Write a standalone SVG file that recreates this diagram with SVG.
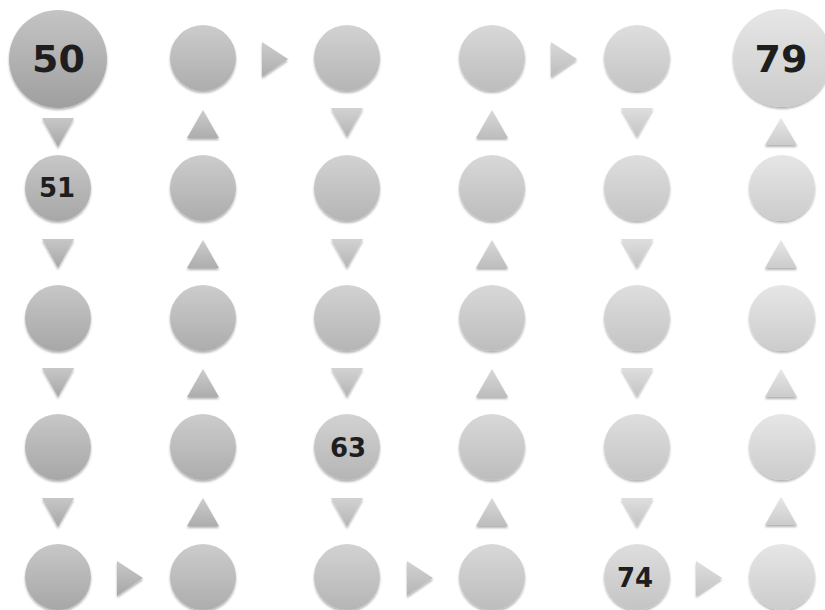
<svg xmlns="http://www.w3.org/2000/svg" width="825" height="610" viewBox="0 0 825 610">
<style>
.lbl{font-family:"DejaVu Sans","Liberation Sans",sans-serif;font-weight:bold;fill:#1e1e1e;text-anchor:middle}
.big{font-size:38px}
.sm{font-size:26px}
.n,.t{filter:url(#sh)}
</style>
<defs>
<linearGradient id="g0" x1="0" y1="0" x2="0" y2="1"><stop offset="0" stop-color="#c4c4c4"/><stop offset="1" stop-color="#9f9f9f"/></linearGradient>
<linearGradient id="g1" x1="0" y1="0" x2="0" y2="1"><stop offset="0" stop-color="#c7c7c7"/><stop offset="1" stop-color="#a7a7a7"/></linearGradient>
<linearGradient id="g2" x1="0" y1="0" x2="0" y2="1"><stop offset="0" stop-color="#cccccc"/><stop offset="1" stop-color="#adadad"/></linearGradient>
<linearGradient id="g3" x1="0" y1="0" x2="0" y2="1"><stop offset="0" stop-color="#d2d2d2"/><stop offset="1" stop-color="#b5b5b5"/></linearGradient>
<linearGradient id="g4" x1="0" y1="0" x2="0" y2="1"><stop offset="0" stop-color="#d8d8d8"/><stop offset="1" stop-color="#bdbdbd"/></linearGradient>
<linearGradient id="g5" x1="0" y1="0" x2="0" y2="1"><stop offset="0" stop-color="#dedede"/><stop offset="1" stop-color="#c4c4c4"/></linearGradient>
<linearGradient id="g6" x1="0" y1="0" x2="0" y2="1"><stop offset="0" stop-color="#e6e6e6"/><stop offset="1" stop-color="#cccccc"/></linearGradient>
<filter id="sh" x="-30%" y="-30%" width="160%" height="170%">
<feDropShadow dx="0" dy="2" stdDeviation="1.3" flood-color="#000" flood-opacity="0.3"/>
</filter>
</defs>

<g id="connectors">
<!-- column 1 down -->
<polygon class="t" fill="url(#g1)" points="42,118 74,118 58,147"/>
<polygon class="t" fill="url(#g1)" points="42,239 74,239 58,268"/>
<polygon class="t" fill="url(#g1)" points="42,368 74,368 58,397"/>
<polygon class="t" fill="url(#g1)" points="42,498 74,498 58,527"/>
<!-- column 2 up -->
<polygon class="t" fill="url(#g2)" points="203,110 219,138 187,138"/>
<polygon class="t" fill="url(#g2)" points="203,240 219,268 187,268"/>
<polygon class="t" fill="url(#g2)" points="203,369 219,397 187,397"/>
<polygon class="t" fill="url(#g2)" points="203,498 219,526 187,526"/>
<!-- column 3 down -->
<polygon class="t" fill="url(#g3)" points="331,108 363,108 347,137"/>
<polygon class="t" fill="url(#g3)" points="331,239 363,239 347,268"/>
<polygon class="t" fill="url(#g3)" points="331,368 363,368 347,397"/>
<polygon class="t" fill="url(#g3)" points="331,498 363,498 347,527"/>
<!-- column 4 up -->
<polygon class="t" fill="url(#g4)" points="492,110 508,138 476,138"/>
<polygon class="t" fill="url(#g4)" points="492,240 508,268 476,268"/>
<polygon class="t" fill="url(#g4)" points="492,369 508,397 476,397"/>
<polygon class="t" fill="url(#g4)" points="492,498 508,526 476,526"/>
<!-- column 5 down -->
<polygon class="t" fill="url(#g5)" points="621,108 653,108 637,137"/>
<polygon class="t" fill="url(#g5)" points="621,239 653,239 637,268"/>
<polygon class="t" fill="url(#g5)" points="621,368 653,368 637,397"/>
<polygon class="t" fill="url(#g5)" points="621,498 653,498 637,527"/>
<!-- column 6 up -->
<polygon class="t" fill="url(#g6)" points="781,118 797,145 765,145"/>
<polygon class="t" fill="url(#g6)" points="781,240 797,268 765,268"/>
<polygon class="t" fill="url(#g6)" points="781,369 797,397 765,397"/>
<polygon class="t" fill="url(#g6)" points="781,497 797,525 765,525"/>
<!-- horizontal right arrows -->
<polygon class="t" fill="url(#g2)" points="262,42 288,59 262,77"/>
<polygon class="t" fill="url(#g4)" points="551,42 577,59 551,77"/>
<polygon class="t" fill="url(#g1)" points="117,561 143,578 117,596"/>
<polygon class="t" fill="url(#g3)" points="407,561 433,578 407,596"/>
<polygon class="t" fill="url(#g5)" points="696,561 722,578 696,596"/>
</g>

<g id="n50"><circle class="n" cx="58" cy="59" r="49" fill="url(#g0)"/><text class="lbl big" x="58.5" y="72">50</text></g>
<g id="n51"><circle class="n" cx="58" cy="188" r="33" fill="url(#g1)"/><text class="lbl sm" x="57" y="197">51</text></g>
<g id="n52"><circle class="n" cx="58" cy="318" r="33" fill="url(#g1)"/></g>
<g id="n53"><circle class="n" cx="58" cy="447" r="33" fill="url(#g1)"/></g>
<g id="n54"><circle class="n" cx="58" cy="577" r="33" fill="url(#g1)"/></g>

<g id="n55"><circle class="n" cx="203" cy="577" r="33" fill="url(#g2)"/></g>
<g id="n56"><circle class="n" cx="203" cy="447" r="33" fill="url(#g2)"/></g>
<g id="n57"><circle class="n" cx="203" cy="318" r="33" fill="url(#g2)"/></g>
<g id="n58"><circle class="n" cx="203" cy="188" r="33" fill="url(#g2)"/></g>
<g id="n59"><circle class="n" cx="203" cy="58" r="33" fill="url(#g2)"/></g>

<g id="n60"><circle class="n" cx="347" cy="58" r="33" fill="url(#g3)"/></g>
<g id="n61"><circle class="n" cx="347" cy="188" r="33" fill="url(#g3)"/></g>
<g id="n62"><circle class="n" cx="347" cy="318" r="33" fill="url(#g3)"/></g>
<g id="n63"><circle class="n" cx="347" cy="447" r="33" fill="url(#g3)"/><text class="lbl sm" x="348" y="457">63</text></g>
<g id="n64"><circle class="n" cx="347" cy="577" r="33" fill="url(#g3)"/></g>

<g id="n65"><circle class="n" cx="492" cy="577" r="33" fill="url(#g4)"/></g>
<g id="n66"><circle class="n" cx="492" cy="447" r="33" fill="url(#g4)"/></g>
<g id="n67"><circle class="n" cx="492" cy="318" r="33" fill="url(#g4)"/></g>
<g id="n68"><circle class="n" cx="492" cy="188" r="33" fill="url(#g4)"/></g>
<g id="n69"><circle class="n" cx="492" cy="58" r="33" fill="url(#g4)"/></g>

<g id="n70"><circle class="n" cx="637" cy="58" r="33" fill="url(#g5)"/></g>
<g id="n71"><circle class="n" cx="637" cy="188" r="33" fill="url(#g5)"/></g>
<g id="n72"><circle class="n" cx="637" cy="318" r="33" fill="url(#g5)"/></g>
<g id="n73"><circle class="n" cx="637" cy="447" r="33" fill="url(#g5)"/></g>
<g id="n74"><circle class="n" cx="637" cy="577" r="33" fill="url(#g5)"/><text class="lbl sm" x="635" y="587">74</text></g>

<g id="n75"><circle class="n" cx="782" cy="577" r="33" fill="url(#g6)"/></g>
<g id="n76"><circle class="n" cx="782" cy="447" r="33" fill="url(#g6)"/></g>
<g id="n77"><circle class="n" cx="782" cy="318" r="33" fill="url(#g6)"/></g>
<g id="n78"><circle class="n" cx="782" cy="188" r="33" fill="url(#g6)"/></g>
<g id="n79"><circle class="n" cx="782" cy="58" r="49" fill="url(#g6)"/><text class="lbl big" x="781" y="72">79</text></g>
</svg>
